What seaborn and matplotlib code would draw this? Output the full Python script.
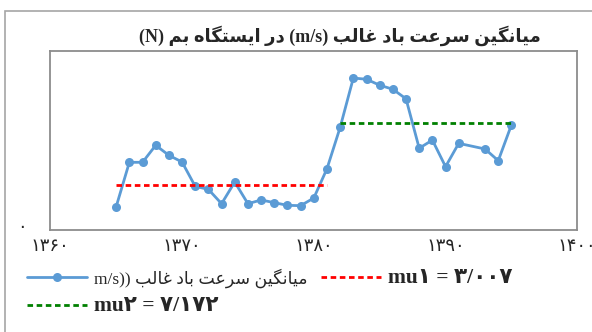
import matplotlib
matplotlib.use('Agg')
import matplotlib.pyplot as plt
import matplotlib.patches as mpatches
import matplotlib.transforms as mtransforms
from matplotlib.lines import Line2D
import seaborn as sns
import pandas as pd

# ---- data ----
years = [1365, 1366, 1367, 1368, 1369, 1370, 1371, 1372, 1373, 1374,
         1375, 1376, 1377, 1378, 1379, 1380, 1381, 1382, 1383, 1384,
         1385, 1386, 1387, 1388, 1389, 1390, 1391, 1393, 1394, 1395]
wind = [1.56, 4.53, 4.53, 5.67, 5.00, 4.55, 2.92, 2.72, 1.76, 3.21,
        1.76, 2.01, 1.83, 1.65, 1.63, 2.14, 4.10, 6.87, 10.17, 10.09,
        9.69, 9.42, 8.78, 5.47, 6.02, 4.24, 5.80, 5.42, 4.64, 7.03]
mu1 = 3.007
mu1_years = [1365, 1381]
mu2 = 7.172
mu2_years = [1382, 1395]
xticks = [1360, 1370, 1380, 1390, 1400]
xtick_labels = ['۱۳۶۰', '۱۳۷۰', '۱۳۸۰', '۱۳۹۰', '۱۴۰۰']

# ---- simple persian shaping (matplotlib has no bidi / joining) ----
FORMS = {
    'ا': ('\uFE8D', '\uFE8E', None, None),
    'ب': ('\uFE8F', '\uFE90', '\uFE91', '\uFE92'),
    'ت': ('\uFE95', '\uFE96', '\uFE97', '\uFE98'),
    'د': ('\uFEA9', '\uFEAA', None, None),
    'ر': ('\uFEAD', '\uFEAE', None, None),
    'س': ('\uFEB1', '\uFEB2', '\uFEB3', '\uFEB4'),
    'ع': ('\uFEC9', '\uFECA', '\uFECB', '\uFECC'),
    'غ': ('\uFECD', '\uFECE', '\uFECF', '\uFED0'),
    'ل': ('\uFEDD', '\uFEDE', '\uFEDF', '\uFEE0'),
    'م': ('\uFEE1', '\uFEE2', '\uFEE3', '\uFEE4'),
    'ن': ('\uFEE5', '\uFEE6', '\uFEE7', '\uFEE8'),
    'ه': ('\uFEE9', '\uFEEA', '\uFEEB', '\uFEEC'),
    'ی': ('\uFBFC', '\uFBFD', '\uFBFE', '\uFBFF'),
    'ک': ('\uFB8E', '\uFB8F', '\uFB90', '\uFB91'),
    'گ': ('\uFB92', '\uFB93', '\uFB94', '\uFB95'),
}


def fa(s):
    out = []
    for i, c in enumerate(s):
        if c not in FORMS:
            out.append(c)
            continue
        prev = s[i - 1] if i > 0 else ''
        nxt = s[i + 1] if i < len(s) - 1 else ''
        jp = prev in FORMS and FORMS[prev][2] is not None
        jn = FORMS[c][2] is not None and nxt in FORMS
        f = FORMS[c]
        if jp and jn:
            out.append(f[3])
        elif jp:
            out.append(f[1])
        elif jn:
            out.append(f[2])
        else:
            out.append(f[0])
    return ''.join(out[::-1])


sns.set_style('white')
plt.rcParams['font.family'] = ['Liberation Serif', 'DejaVu Sans']

fig = plt.figure(figsize=(5.92, 3.32), dpi=100)
ax = fig.add_axes([50.3 / 592, 1 - 230 / 332, 527 / 592, 179.3 / 332])

df = pd.DataFrame({'year': years, 'wind': wind})
sns.lineplot(data=df, x='year', y='wind', ax=ax, color='#5b9bd5', lw=2.0,
             marker='o', markersize=6.5, markeredgewidth=0, legend=False)
sns.lineplot(x=mu1_years, y=[mu1, mu1], ax=ax, color='#ff0000', lw=2.0,
             dashes=False, legend=False)
sns.lineplot(x=mu2_years, y=[mu2, mu2], ax=ax, color='#008000', lw=2.0,
             dashes=False, legend=False)
ax.lines[1].set_dashes((2.0, 1.3))
ax.lines[2].set_dashes((2.0, 1.3))

ax.set_xlim(1360, 1400)
ax.set_ylim(0, 12)
ax.set_xticks(xticks)
ax.set_xticklabels(xtick_labels, fontsize=13)
ax.set_yticks([0])
ax.set_yticklabels(['۰'], fontsize=13)
ax.set_xlabel('')
ax.set_ylabel('')
for sp in ax.spines.values():
    sp.set_color('#8c8c8c')
    sp.set_linewidth(1.3)
ax.tick_params(axis='x', direction='out', length=4, width=1, color='#8c8c8c', pad=2)
ax.tick_params(axis='y', length=0, pad=17)
# lift the zero label a little, like the reference
for lbl in ax.get_yticklabels():
    lbl.set_transform(lbl.get_transform() +
                      mtransforms.ScaledTranslation(0, 5 / 100, fig.dpi_scale_trans))

# outer chart border
fig.add_artist(mpatches.Rectangle((5 / 592, -0.1), 1.2, 1 - 10.7 / 332 + 0.1,
                                  transform=fig.transFigure, fill=False,
                                  ec='#a6a6a6', lw=1.2))

title = '(N) ' + fa('در ایستگاه بم') + ' (m/s) ' + fa('میانگین سرعت باد غالب')
fig.text(340 / 592, 1 - 36 / 332, title, ha='center', va='center',
         fontsize=13, fontweight='bold')

handles = [
    Line2D([], [], color='#5b9bd5', lw=2.0, marker='o', markersize=6.5, markeredgewidth=0),
    Line2D([], [], color='#008000', lw=2.0, dashes=(2.0, 1.3)),
    Line2D([], [], color='#ff0000', lw=2.0, dashes=(2.0, 1.3)),
]
labels = [
    'm/s)) ' + fa('میانگین سرعت باد غالب'),
    'mu۲ = ۷/۱۷۲',
    'mu۱ = ۳/۰۰۷',
]
leg = fig.legend(handles, labels, ncol=2, frameon=False, loc='upper left',
                 bbox_to_anchor=(27 / 592, 1 - 268 / 332), fontsize=12,
                 handlelength=3.6, handletextpad=0.45, columnspacing=0.75,
                 borderpad=0, borderaxespad=0, labelspacing=0.5)
txts = leg.get_texts()
txts[0].set_fontsize(12.5)
for t in txts[1:]:
    t.set_fontsize(15.5)
    t.set_fontweight('bold')

fig.savefig('out.png', dpi=100)
